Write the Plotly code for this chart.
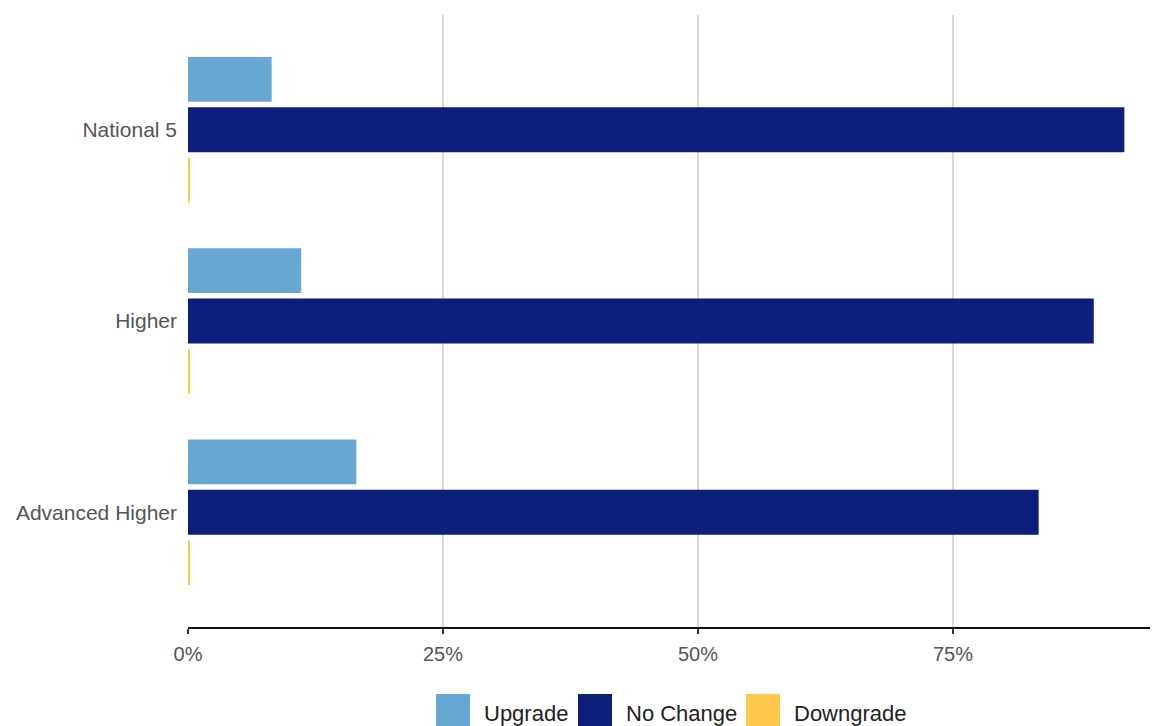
import plotly.graph_objects as go

categories = ["National 5", "Higher", "Advanced Higher"]
upgrade = [8.2, 11.1, 16.5]
no_change = [91.8, 88.8, 83.4]
downgrade = [0.1, 0.1, 0.1]
series_names = ["Upgrade", "No Change", "Downgrade"]
colors = ["#66a8d3", "#0e1f7b", "#ffc84a"]
tick_vals = [0, 25, 50, 75]
tick_text = ["0%", "25%", "50%", "75%"]

# layout geometry (screen pixels; the page body adds an 8px offset)
OFF = 8
VW, VH = 1158, 726
W, H = VW - OFF, VH - OFF  # figure fits inside the viewport
PL, PR, PT, PB = 188, 1158, 15, 627  # plot area on screen
legend_swatch_x = [436, 578, 746]
legend_text_x = [482, 624, 792]


def px_to_paper_x(sx):
    return (sx - PL) / (PR - PL)


def px_to_paper_y(sy):
    return (PB - sy) / (PB - PT)


fig = go.Figure()
for name, vals, col in zip(series_names, [upgrade, no_change, downgrade], colors):
    fig.add_trace(go.Bar(
        y=categories, x=vals, name=name, orientation="h",
        marker=dict(color=col, line=dict(width=0)),
        hovertemplate="%{y}: %{x}%<extra>" + name + "</extra>",
    ))

shapes = []
annotations = []
for name, col, sx, tx in zip(series_names, colors, legend_swatch_x, legend_text_x):
    shapes.append(dict(
        type="rect", xref="paper", yref="paper",
        x0=px_to_paper_x(sx), x1=px_to_paper_x(sx + 34),
        y0=px_to_paper_y(694), y1=px_to_paper_y(729),
        fillcolor=col, line=dict(width=0), layer="above",
    ))
    annotations.append(dict(
        text=name, xref="paper", yref="paper",
        x=px_to_paper_x(tx), y=px_to_paper_y(713),
        xanchor="left", yanchor="middle", showarrow=False,
        font=dict(size=22, color="#222222"),
    ))

fig.update_layout(
    width=W, height=H,
    margin=dict(l=PL - OFF, r=VW - PR, t=PT - OFF, b=VH - PB),
    paper_bgcolor="white", plot_bgcolor="white",
    barmode="group", bargap=0.21, bargroupgap=0.11,
    font=dict(family="Liberation Sans, Arial, sans-serif", size=20, color="#555555"),
    xaxis=dict(
        range=[0, 95.1], tickvals=tick_vals, ticktext=tick_text,
        showgrid=True, gridcolor="#d9d9d9", gridwidth=2,
        zeroline=False, showline=True, linecolor="#111111", linewidth=2,
        ticks="outside", ticklen=5, tickwidth=2, tickcolor="#333333",
        tickfont=dict(size=20, color="#555555"),
        ticklabelstandoff=3,
    ),
    yaxis=dict(
        type="category", categoryorder="array", categoryarray=categories,
        range=[2.6, -0.6], showgrid=False, zeroline=False, showline=False,
        ticks="", tickfont=dict(size=21, color="#555555"),
        ticklabelstandoff=10,
    ),
    showlegend=False,
    shapes=shapes,
    annotations=annotations,
)

fig.write_html("out.html", post_script="document.body.style.overflow='hidden';")
